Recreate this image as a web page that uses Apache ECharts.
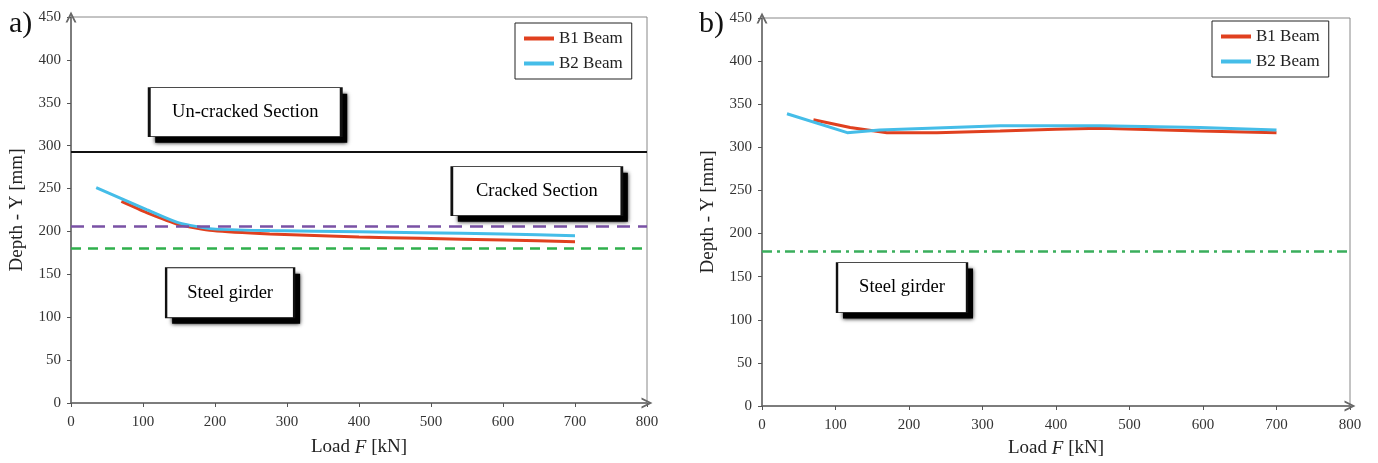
<!DOCTYPE html>
<html>
<head>
<meta charset="utf-8">
<title>Depth - Load</title>
<script src="https://cdn.jsdelivr.net/npm/echarts@6/dist/echarts.min.js"></script>
<style>
  html, body { margin: 0; padding: 0; background: #fff; }
  #chart { width: 1378px; height: 463px; }
</style>
</head>
<body>
<div id="chart"></div>
<script>
// 数据 - a) 面板
const aB1Load = [70, 105, 150, 197, 276, 400, 485, 600, 700];
const aB1Depth = [235, 222, 208, 201, 197, 193.5, 192, 190, 188];
const aB2Load = [35, 105, 150, 197, 276, 400, 485, 600, 700];
const aB2Depth = [251, 225.5, 210, 203, 201, 199.5, 198.5, 197, 195];

// 数据 - b) 面板
const bB1Load = [70, 120, 170, 238, 324, 400, 460, 596, 700];
const bB1Depth = [332, 323, 317, 317, 319, 321, 322, 319, 317];
const bB2Load = [34, 116, 160, 324, 460, 596, 700];
const bB2Depth = [339, 317, 320, 325, 325, 323, 320];

// 参考线 (mm)
const uncrackedLevel = 293;
const neutralLevel = 206;
const girderLevel = 180;

const seriesNames = ['B1 Beam', 'B2 Beam'];
const FONT = 'Liberation Serif';
const RED = '#e0401f';
const BLUE = '#45bde8';
const ARROW = 'path://M0,10L5,0L10,10L8.2,10L5,3.6L1.8,10Z';

// 文字框 (a: 0, b: 1)
const boxesA = [
    { name: 'Un-cracked Section', coord: [242, 339], symbolSize: [192, 49] },
    { name: 'Cracked Section', coord: [647, 247], symbolSize: [170, 49] },
    { name: 'Steel girder', coord: [221, 128.5], symbolSize: [128, 50] }
];
const boxesB = [
    { name: 'Steel girder', coord: [190.5, 137.3], symbolSize: [130, 50] }
];

function pairs(xs, ys) {
    return xs.map((x, i) => [x, ys[i]]);
}

function makeXAxis(idx, gap) {
    return {
        gridIndex: idx,
        type: 'value',
        min: 0,
        max: 800,
        interval: 100,
        name: 'Load {i|F} [kN]',
        nameLocation: 'middle',
        nameGap: gap,
        nameTextStyle: {
            fontFamily: FONT, fontSize: 19, color: '#222',
            rich: { i: { fontFamily: FONT, fontSize: 19, fontStyle: 'italic', color: '#222' } }
        },
        axisLine: {
            lineStyle: { color: '#666', width: 1.5 },
            symbol: ['none', ARROW],
            symbolSize: [13, 11]
        },
        axisTick: { show: true, length: 4, lineStyle: { color: '#555' } },
        axisLabel: { color: '#333', fontFamily: FONT, fontSize: 15, margin: 12 },
        splitLine: { show: false }
    };
}

function makeYAxis(idx) {
    return {
        gridIndex: idx,
        type: 'value',
        min: 0,
        max: 450,
        interval: 50,
        name: 'Depth - Y [mm]',
        nameLocation: 'middle',
        nameGap: 44,
        nameTextStyle: { fontFamily: FONT, fontSize: 19, color: '#222' },
        axisLine: {
            lineStyle: { color: '#666', width: 1.5 },
            symbol: ['none', ARROW],
            symbolSize: [11, 12]
        },
        axisTick: { show: true, length: 4, lineStyle: { color: '#555' } },
        axisLabel: { color: '#333', fontFamily: FONT, fontSize: 15, margin: 10 },
        splitLine: { show: false }
    };
}

function beamSeries(name, idx, xs, ys, color, smooth) {
    return {
        name: name,
        type: 'line',
        xAxisIndex: idx,
        yAxisIndex: idx,
        data: pairs(xs, ys),
        symbol: 'none',
        smooth: smooth,
        lineStyle: { color: color, width: 3 },
        itemStyle: { color: color },
        z: 3
    };
}

// 阴影层 + 白框层
function shadowSeries(idx, boxes) {
    return {
        name: 'shadow-' + idx,
        type: 'line',
        xAxisIndex: idx,
        yAxisIndex: idx,
        data: [],
        z: 4,
        markPoint: {
            silent: true,
            symbol: 'rect',
            symbolOffset: [6, 6],
            itemStyle: { color: '#000', shadowColor: 'rgba(0,0,0,0.9)', shadowBlur: 4 },
            label: { show: false },
            data: boxes
        }
    };
}

function boxSeries(idx, boxes, lines) {
    return {
        name: 'box-' + idx,
        type: 'line',
        xAxisIndex: idx,
        yAxisIndex: idx,
        data: [],
        z: 5,
        markLine: {
            silent: true,
            symbol: ['none', 'none'],
            label: { show: false },
            data: lines
        },
        markPoint: {
            silent: true,
            symbol: 'rect',
            itemStyle: { color: '#fff', borderColor: '#111', borderWidth: 1.5 },
            label: {
                show: true,
                position: 'inside',
                formatter: '{b}',
                color: '#000',
                fontFamily: FONT,
                fontSize: 18.5
            },
            data: boxes
        }
    };
}

function legendAt(left, top) {
    return {
        data: seriesNames,
        left: left,
        top: top,
        orient: 'vertical',
        icon: 'rect',
        itemWidth: 30,
        itemHeight: 4,
        itemGap: 8,
        borderColor: '#222',
        borderWidth: 1,
        padding: [7, 9, 7, 9],
        selectedMode: false,
        textStyle: { fontFamily: FONT, fontSize: 17, color: '#222' }
    };
}

const chart = echarts.init(document.getElementById('chart'));
chart.setOption({
    animation: false,
    backgroundColor: '#fff',
    title: [
        { text: 'a)', left: 4, top: 4, textStyle: { fontFamily: FONT, fontSize: 30, fontWeight: 'normal', color: '#111' } },
        { text: 'b)', left: 694, top: 4, textStyle: { fontFamily: FONT, fontSize: 30, fontWeight: 'normal', color: '#111' } }
    ],
    legend: [legendAt(515, 23), legendAt(1212, 21)],
    grid: [
        { left: 71, top: 17, width: 576, height: 386, show: true, borderColor: '#888', borderWidth: 1 },
        { left: 762, top: 18, width: 588, height: 390, show: true, borderColor: '#888', borderWidth: 1 }
    ],
    xAxis: [makeXAxis(0, 35), makeXAxis(1, 33)],
    yAxis: [makeYAxis(0), makeYAxis(1)],
    series: [
        beamSeries(seriesNames[0], 0, aB1Load, aB1Depth, RED, 0.2),
        beamSeries(seriesNames[1], 0, aB2Load, aB2Depth, BLUE, 0.2),
        beamSeries(seriesNames[0], 1, bB1Load, bB1Depth, RED, false),
        beamSeries(seriesNames[1], 1, bB2Load, bB2Depth, BLUE, false),
        shadowSeries(0, boxesA),
        boxSeries(0, boxesA, [
            { yAxis: uncrackedLevel, lineStyle: { color: '#111', type: 'solid', width: 2 } },
            { yAxis: neutralLevel, lineStyle: { color: '#7a51a5', type: [13, 8], width: 2.5 } },
            { yAxis: girderLevel, lineStyle: { color: '#2fb04c', type: [10, 7], width: 2.5 } }
        ]),
        shadowSeries(1, boxesB),
        boxSeries(1, boxesB, [
            { yAxis: girderLevel, lineStyle: { color: '#3aae5c', type: [10, 5, 3, 5], width: 2.5 } }
        ])
    ]
});

window.addEventListener('resize', function() {
    chart.resize();
});
</script>
</body>
</html>
